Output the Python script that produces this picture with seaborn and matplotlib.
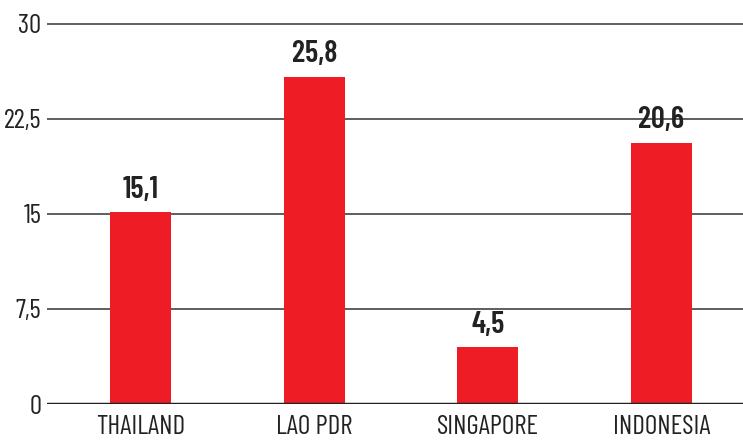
import pandas as pd
import matplotlib
matplotlib.use('Agg')
import matplotlib.pyplot as plt
from matplotlib.ticker import FuncFormatter
import seaborn as sns

countries = ['THAILAND', 'LAO PDR', 'SINGAPORE', 'INDONESIA']
values = [15.1, 25.8, 4.5, 20.6]
yticks = [0, 7.5, 15, 22.5, 30]

df = pd.DataFrame({'country': countries, 'value': values})

sns.set_style('white')
plt.rcParams['font.family'] = ['Barlow Condensed', 'DejaVu Sans']

fig = plt.figure(figsize=(7.43, 4.4), dpi=100)
# axes placed by hand so the grid starts where the reference does
ax = fig.add_axes([47 / 743, 1 - 404 / 440, 1 - 47 / 743, (404 - 19.7) / 440])

red = '#ee1c25'
txt = '#222222'

sns.barplot(data=df, x='country', y='value', color=red, width=0.35,
            saturation=1, linewidth=0, ax=ax, zorder=3)

ax.set_ylim(0, 30.3)
ax.set_xlim(-0.54, 3.47)
ax.set_yticks(yticks)
ax.yaxis.set_major_formatter(FuncFormatter(lambda v, p: ('%g' % v).replace('.', ',')))

for y in yticks[1:]:
    ax.axhline(y, color='#333333', lw=1.1, zorder=1)
ax.axhline(0, color='#222222', lw=2.5, zorder=4)

for s in ax.spines.values():
    s.set_visible(False)

ax.set_xlabel('')
ax.set_ylabel('')
ax.tick_params(axis='y', length=0, pad=4, labelsize=19.5, labelcolor=txt)
ax.tick_params(axis='x', length=0, pad=8, labelsize=19.5, labelcolor=txt)

ax.bar_label(ax.containers[0], labels=[('%.1f' % v).replace('.', ',') for v in values],
             padding=6, fontsize=22, fontweight='semibold', color=txt)

fig.savefig('out.png', dpi=100)
